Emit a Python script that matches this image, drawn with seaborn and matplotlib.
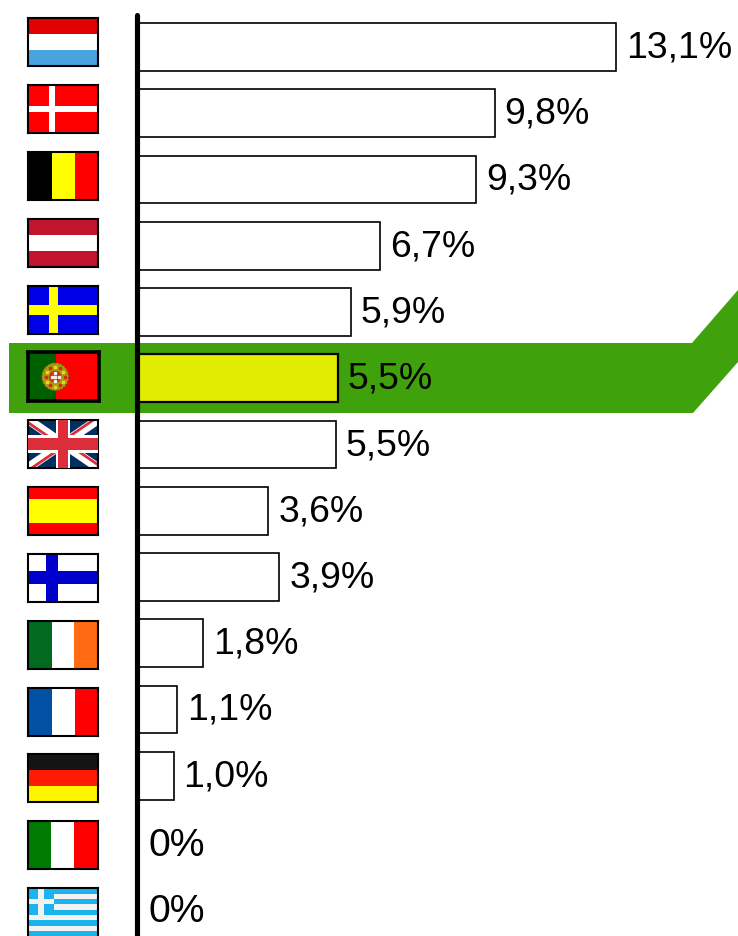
import math
import matplotlib
matplotlib.use('Agg')
import matplotlib.pyplot as plt
from matplotlib.patches import Ellipse, Polygon
import pandas as pd
import seaborn as sns

# Data (bar lengths as drawn, labels as printed)
countries = ['Luxembourg', 'Denmark', 'Belgium', 'Austria', 'Sweden', 'Portugal', 'UK',
             'Spain', 'Finland', 'Ireland', 'France', 'Germany', 'Italy', 'Greece']
shares = [13.13, 9.8, 9.3, 6.65, 5.85, 5.5, 5.45, 3.6, 3.9, 1.8, 1.1, 1.0, 0, 0]
share_labels = ['13,1%', '9,8%', '9,3%', '6,7%', '5,9%', '5,5%', '5,5%',
                '3,6%', '3,9%', '1,8%', '1,1%', '1,0%', '0%', '0%']
highlight = 'Portugal'

W, H = 738, 936
PX_PER_UNIT = 36.5
ZERO_X = 137
FIRST_BAR_Y = 47
BAR_STEP = 66.25

sns.set_theme(style='white')
plt.rcParams['font.family'] = ['Liberation Sans', 'DejaVu Sans']

fig = plt.figure(figsize=(W / 100, H / 100), dpi=100)
ax = fig.add_axes([0, 0, 1, 1])

df = pd.DataFrame({'country': countries, 'share': shares})
colors = ['#e2ec00' if c == highlight else 'white' for c in countries]
sns.barplot(data=df, x='share', y='country', hue='country', palette=colors, legend=False,
            width=0.72, edgecolor='black', linewidth=1.2, saturation=1, ax=ax, zorder=3)

ax.set_xlim(-ZERO_X / PX_PER_UNIT, (W - ZERO_X) / PX_PER_UNIT)
ax.set_ylim((H - FIRST_BAR_Y) / BAR_STEP, -FIRST_BAR_Y / BAR_STEP)
ax.axis('off')

# thicker outline on the highlighted bar
ax.patches[countries.index(highlight)].set_linewidth(1.6)


def px(x, y):
    return (x - ZERO_X) / PX_PER_UNIT, (y - FIRST_BAR_Y) / BAR_STEP


# green band behind Portugal
band = [(9, 343), (692, 343), (738, 290), (738, 362), (693, 413), (9, 413)]
ax.add_patch(Polygon([px(*p) for p in band], closed=True, facecolor='#3fa10c',
                     edgecolor='none', zorder=1))

# thick baseline
x0, y0 = px(137, 15)
x1, y1 = px(137, 940)
ax.plot([x0, x1], [y0, y1], color='black', lw=3.7, solid_capstyle='round', zorder=6)

# value labels, the 0% ones sit lower and a little bigger
for i, (v, lab) in enumerate(zip(shares, share_labels)):
    if v == 0:
        off, size = (12 * 0.72, 0), 28.2
    else:
        off, size = (10 * 0.72, 3 * 0.72), 26.9
    ax.annotate(lab, (v, i), xytext=off, textcoords='offset points',
                va='center_baseline', ha='left', fontsize=size, color='black', zorder=7)


def new_flag(i, bg='white'):
    cy = 42 + 66.95 * i
    lw = 1.5
    left, width, height = 28, 70, 48
    if countries[i] == highlight:
        lw = 2.6
        left, width, height = 27.5, 71, 49
    fa = fig.add_axes([left / W, 1 - (cy + height / 2) / H, width / W, height / H], zorder=8)
    fa.set_xlim(0, 1)
    fa.set_ylim(1, 0)
    fa.set_xticks([])
    fa.set_yticks([])
    fa.set_facecolor(bg)
    for s in fa.spines.values():
        s.set_visible(True)
        s.set_color('black')
        s.set_linewidth(lw)
    return fa


def hstripes(fa, cols, edges=None):
    n = len(cols)
    edges = edges or [k / n for k in range(n + 1)]
    for k, c in enumerate(cols):
        fa.axhspan(edges[k], edges[k + 1], color=c, lw=0)


def vstripes(fa, cols, edges=None):
    n = len(cols)
    edges = edges or [k / n for k in range(n + 1)]
    for k, c in enumerate(cols):
        fa.axvspan(edges[k], edges[k + 1], color=c, lw=0)


def cross(fa, col, cx, cy, wx, wy, z=1):
    fa.axvspan(cx - wx / 2, cx + wx / 2, color=col, lw=0, zorder=z)
    fa.axhspan(cy - wy / 2, cy + wy / 2, color=col, lw=0, zorder=z)


# Luxembourg
hstripes(new_flag(0), ['#e30000', 'white', '#4aa3dc'])

# Denmark
f = new_flag(1, '#ff0000')
cross(f, 'white', 0.34, 0.5, 0.085, 0.125)

# Belgium
vstripes(new_flag(2), ['black', '#ffff00', '#ff0000'], [0, 0.34, 0.67, 1])

# Austria
hstripes(new_flag(3), ['#c0152d', 'white', '#c0152d'])

# Sweden
f = new_flag(4, '#0000e6')
cross(f, '#ffff00', 0.36, 0.5, 0.13, 0.22)

# Portugal
f = new_flag(5)
vstripes(f, ['#006000', '#ff0000'], [0, 0.4, 1])
f.add_patch(Ellipse((0.39, 0.5), 0.38, 0.57, facecolor='#a89a10', edgecolor='#5a4c00',
                    lw=1.0, ls=':'))
for a in range(0, 360, 30):
    cx = 0.39 + 0.135 * math.cos(math.radians(a))
    cy = 0.5 + 0.2 * math.sin(math.radians(a))
    f.plot(cx, cy, marker='s', ms=1.6, color='#d42a10' if a % 60 == 0 else '#e8d820', ls='none')
f.add_patch(Ellipse((0.39, 0.5), 0.17, 0.25, facecolor='#d42a10', edgecolor='none', zorder=3))
f.plot([0.39, 0.39, 0.39, 0.34, 0.44], [0.42, 0.5, 0.58, 0.5, 0.5], ls='none', marker='s',
       ms=2.0, color='#f5f2e6', zorder=4)
f.set_xlim(0, 1)
f.set_ylim(1, 0)

# UK
f = new_flag(6, '#00305f')
f.plot([0, 1], [0, 1], color='white', lw=6.5, solid_capstyle='butt')
f.plot([0, 1], [1, 0], color='white', lw=6.5, solid_capstyle='butt')
for ex, ey, ox, oy in [(0, 0, -0.025, 0.035), (1, 0, -0.025, -0.035),
                       (1, 1, 0.025, -0.035), (0, 1, 0.025, 0.035)]:
    f.plot([ex + ox, 0.5 + ox], [ey + oy, 0.5 + oy], color='#dc2e3a', lw=2, solid_capstyle='butt')
cross(f, 'white', 0.5, 0.5, 0.19, 0.38, z=3)
cross(f, '#dc2e3a', 0.5, 0.5, 0.135, 0.25, z=4)
f.set_xlim(0, 1)
f.set_ylim(1, 0)

# Spain
hstripes(new_flag(7), ['#ff0000', '#ffff00', '#ff0000'], [0, 0.25, 0.75, 1])

# Finland
f = new_flag(8)
cross(f, '#0000cd', 0.34, 0.5, 0.165, 0.28)

# Ireland
vstripes(new_flag(9), ['#006b1f', 'white', '#ff6a13'], [0, 0.34, 0.66, 1])

# France
vstripes(new_flag(10), ['#0050a4', 'white', '#ff0000'], [0, 0.34, 0.67, 1])

# Germany
hstripes(new_flag(11), ['#141414', '#ff1a06', '#fff500'])

# Italy
vstripes(new_flag(12), ['#007a00', 'white', '#ff0000'], [0, 0.33, 0.66, 1])

# Greece, its lower edge is cut off by the picture
f = new_flag(13, '#1cb4ef')
for k in range(1, 9, 2):
    f.axhspan(k / 9, (k + 1) / 9, color='#f2f2f2', lw=0)
f.axvspan(0, 0.37, ymin=1 - 5 / 9, ymax=1, color='#1cb4ef', lw=0)
f.axvspan(0.14, 0.23, ymin=1 - 5 / 9, ymax=1, color='#f2f2f2', lw=0)
f.axhspan(2 / 9, 3 / 9, xmin=0, xmax=0.37, color='#f2f2f2', lw=0)
f.spines['bottom'].set_visible(False)

fig.savefig('out.png', dpi=100)
